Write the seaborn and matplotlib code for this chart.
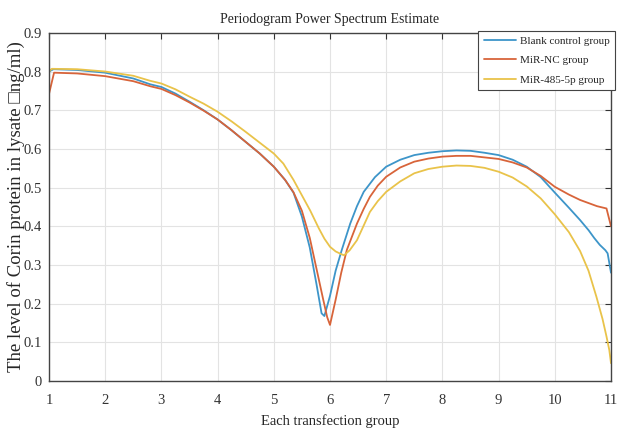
import pandas as pd
import matplotlib
matplotlib.use("Agg")
import matplotlib.pyplot as plt
import seaborn as sns

# values
blank_x = [1.0, 1.08, 1.5, 2.0, 2.5, 2.8, 3.0, 3.25, 3.5, 3.75, 4.0, 4.25, 4.5, 4.75,
           5.0, 5.2, 5.35, 5.5, 5.64, 5.76, 5.85, 5.9, 6.0, 6.1, 6.21, 6.36, 6.48,
           6.6, 6.8, 7.0, 7.25, 7.5, 7.75, 8.0, 8.25, 8.5, 8.75, 9.0, 9.25, 9.5, 9.75,
           10.0, 10.25, 10.45, 10.6, 10.7, 10.8, 10.9, 10.94, 11.0]
blank_y = [0.800, 0.806, 0.804, 0.797, 0.782, 0.767, 0.760, 0.743, 0.722, 0.700, 0.676,
           0.648, 0.618, 0.588, 0.554, 0.520, 0.487, 0.425, 0.345, 0.250, 0.175, 0.168,
           0.220, 0.285, 0.339, 0.407, 0.452, 0.489, 0.527, 0.554, 0.572, 0.584, 0.590,
           0.594, 0.596, 0.595, 0.590, 0.584, 0.572, 0.554, 0.527, 0.487, 0.448, 0.416,
           0.390, 0.370, 0.352, 0.338, 0.330, 0.280]

nc_x = [1.0, 1.09, 1.5, 2.0, 2.5, 2.8, 3.0, 3.25, 3.5, 3.75, 4.0, 4.25, 4.5, 4.75, 5.0,
        5.2, 5.35, 5.5, 5.64, 5.76, 5.88, 5.95, 6.0, 6.1, 6.2, 6.3, 6.48, 6.6, 6.71,
        6.85, 7.0, 7.25, 7.5, 7.75, 8.0, 8.25, 8.5, 8.75, 9.0, 9.25, 9.5, 9.75, 10.0,
        10.25, 10.45, 10.6, 10.75, 10.92, 11.0]
nc_y = [0.742, 0.797, 0.795, 0.788, 0.775, 0.762, 0.755, 0.739, 0.720, 0.699, 0.676,
        0.648, 0.618, 0.588, 0.554, 0.520, 0.488, 0.440, 0.370, 0.290, 0.210, 0.165,
        0.145, 0.210, 0.280, 0.339, 0.407, 0.445, 0.476, 0.505, 0.528, 0.552, 0.567,
        0.575, 0.580, 0.582, 0.582, 0.578, 0.574, 0.565, 0.552, 0.530, 0.502, 0.482,
        0.468, 0.460, 0.452, 0.446, 0.400]

mir_x = [1.0, 1.05, 1.5, 2.0, 2.5, 2.8, 3.0, 3.25, 3.5, 3.75, 4.0, 4.25, 4.5, 4.75,
         5.0, 5.17, 5.35, 5.5, 5.65, 5.8, 5.9, 6.0, 6.1, 6.2, 6.25, 6.35, 6.48, 6.6,
         6.71, 6.85, 7.0, 7.25, 7.5, 7.75, 8.0, 8.25, 8.5, 8.75, 9.0, 9.25, 9.5, 9.75,
         10.0, 10.25, 10.45, 10.6, 10.74, 10.85, 10.92, 10.97, 11.0]
mir_y = [0.800, 0.807, 0.806, 0.800, 0.789, 0.776, 0.769, 0.754, 0.735, 0.717, 0.696,
         0.671, 0.644, 0.616, 0.588, 0.562, 0.520, 0.480, 0.440, 0.395, 0.368, 0.347,
         0.335, 0.328, 0.325, 0.338, 0.364, 0.402, 0.437, 0.465, 0.489, 0.516, 0.537,
         0.548, 0.554, 0.557, 0.556, 0.551, 0.541, 0.526, 0.503, 0.472, 0.431, 0.385,
         0.336, 0.285, 0.218, 0.160, 0.115, 0.080, 0.046]

groups = ["Blank control group", "MiR-NC group", "MiR-485-5p group"]
x_ticks = list(range(1, 12))
y_ticks = [0, 0.1, 0.2, 0.3, 0.4, 0.5, 0.6, 0.7, 0.8, 0.9]
y_tick_labels = ["0", "0.1", "0.2", "0.3", "0.4", "0.5", "0.6", "0.7", "0.8", "0.9"]

colors = ["#3d95c9", "#d8643a", "#e9c34a"]

sns.set_style("white")
plt.rcParams["font.family"] = ["Liberation Serif", "DejaVu Sans"]

df = pd.concat([
    pd.DataFrame({"x": blank_x, "y": blank_y, "group": groups[0]}),
    pd.DataFrame({"x": nc_x, "y": nc_y, "group": groups[1]}),
    pd.DataFrame({"x": mir_x, "y": mir_y, "group": groups[2]}),
])

fig = plt.figure(figsize=(6.25, 4.32), dpi=100)
ax = fig.add_axes([0.0784, 0.118, 0.8992, 0.806])

sns.lineplot(data=df, x="x", y="y", hue="group", palette=colors, sort=False,
             estimator=None, linewidth=1.3, ax=ax)

ax.set_xlim(1, 11)
ax.set_ylim(0, 0.9)
ax.set_xticks(x_ticks)
ax.set_yticks(y_ticks)
ax.set_yticklabels(y_tick_labels)
ax.grid(True, color="#e3e3e3", linewidth=0.8)
ax.tick_params(direction="in", top=True, right=True, length=4, labelsize=10.5,
               colors="#333333", width=0.8)
ax.tick_params(axis="x", pad=9)
ax.tick_params(axis="y", pad=5)
for s in ax.spines.values():
    s.set_color("#444444")
    s.set_linewidth(1.0)

ax.set_title("Periodogram Power Spectrum Estimate", fontsize=10, pad=7)
ax.set_xlabel("Each transfection group", fontsize=10.5)
ax.xaxis.set_label_coords(0.5, -0.095)
ax.set_ylabel("The level of Corin protein in lysate \u25a1ng/ml)", fontsize=13.5)
ax.yaxis.set_label_coords(-0.042, 0.5)

leg = ax.legend(loc="upper right", bbox_to_anchor=(1.007, 1.006), borderaxespad=0,
                fontsize=8, frameon=True, fancybox=False, edgecolor="#444444",
                framealpha=1, handlelength=2.9, handletextpad=0.35, borderpad=0.5,
                labelspacing=0.85)
leg.get_frame().set_linewidth(0.8)

fig.savefig("out.png", dpi=100)
